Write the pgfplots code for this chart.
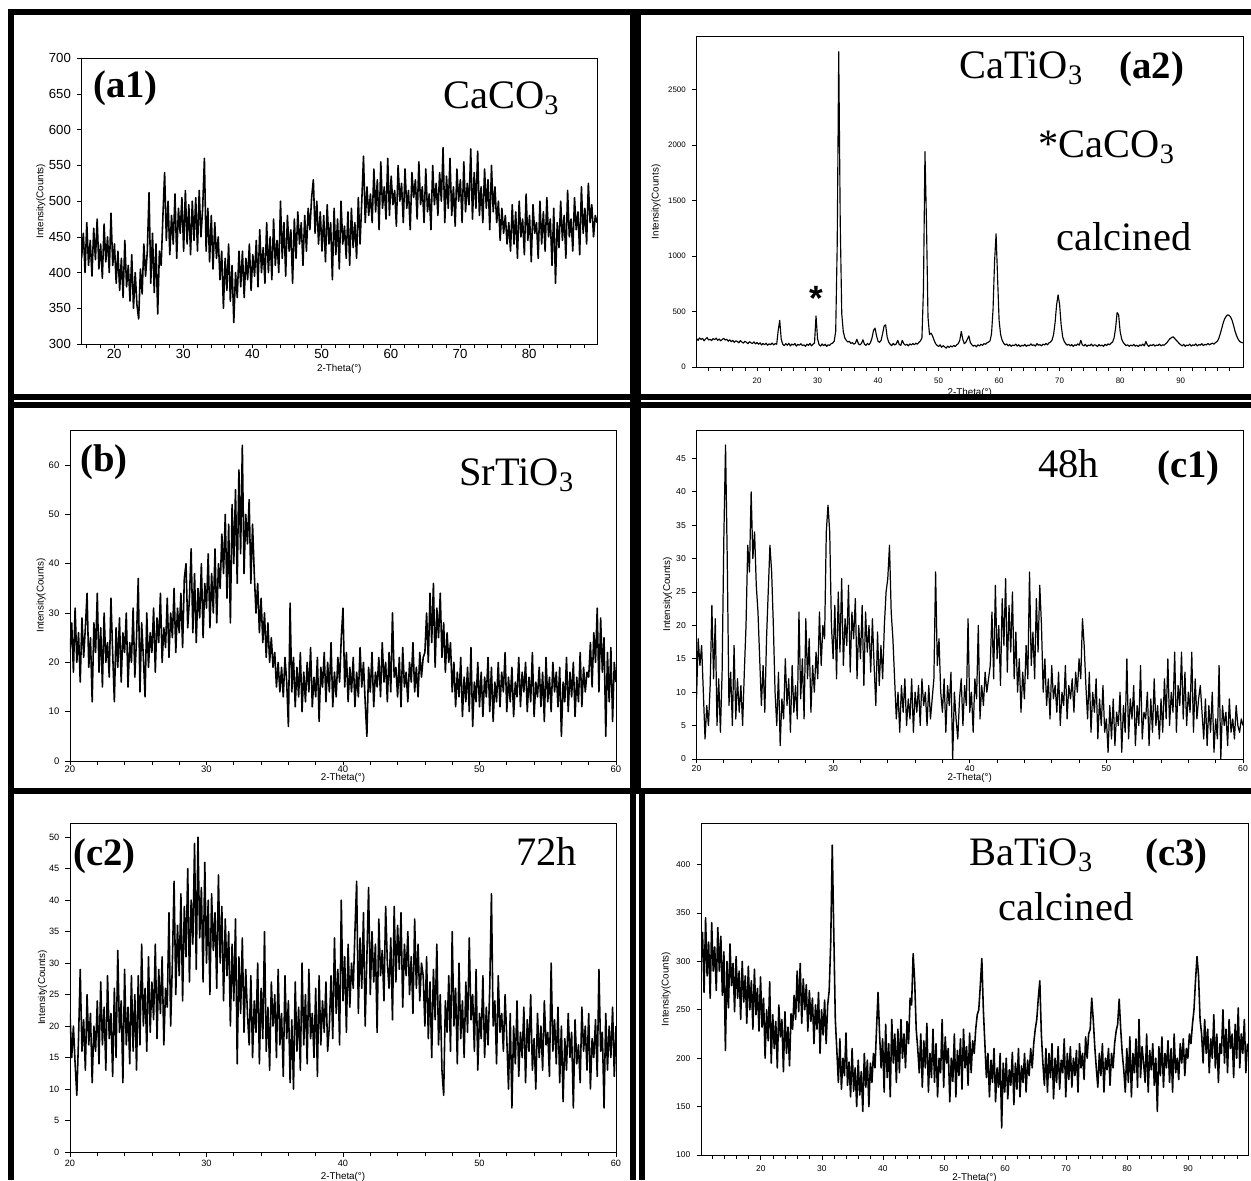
\documentclass[border=0pt]{standalone}
\usepackage{fontspec}
\setmainfont{Liberation Sans}
\newfontfamily\tnr{Liberation Serif}
\usepackage{pgfplots}
\pgfplotsset{compat=1.18}

\pgfplotsset{
  xrd/.style={
    scale only axis, anchor=south west,
    enlargelimits=false, clip=true,
    axis line style={line width=0.5pt},
    tick align=outside, tick pos=left,
    major tick length=0.09cm, minor tick length=0.08cm,
    tick style={line width=0.4pt, black},
    /pgf/number format/assume math mode=true,
    /pgf/number format/1000 sep={},
    scaled ticks=false,
    xlabel={2-Theta(°)}, ylabel={Intensity(Counts)},
    label style={font=\fontsize{5.6}{6}\selectfont},
  },
  xrdline/.style={black, line width=0.9pt, line join=round, mark=none},
}

\begin{document}
\begin{tikzpicture}
\path[use as bounding box] (0,0) rectangle (25.02cm,23.6cm);

% (a1) CaCO3
\begin{axis}[xrd, at={(1.632cm,16.72cm)}, width=10.308cm, height=5.714cm,
  xmin=15.3, xmax=89.8, ymin=300, ymax=700,
  xtick={20,30,...,80}, minor xtick={16,18,...,88}, ytick={300,350,...,700},
  tick label style={font=\fontsize{7.5}{8}\selectfont},
  xticklabel style={yshift=0.1cm},
  xlabel style={at={(axis description cs:0.5,-0.086)}, anchor=center},
  ylabel style={at={(axis description cs:-0.079,0.5)}, anchor=center}]
\addplot[xrdline] table[row sep=\\, header=false, x expr=15.3+0.25*\coordindex, y index=0] {
420\\ 455\\ 400\\ 470\\ 410\\ 445\\ 395\\ 462\\ 418\\ 475\\ 405\\ 440\\ 392\\ 468\\ 415\\ 450\\ 400\\ 483\\ 410\\
440\\ 385\\ 430\\ 375\\ 420\\ 365\\ 445\\ 380\\ 410\\ 360\\ 425\\ 350\\ 400\\ 355\\ 335\\ 405\\
370\\ 440\\ 395\\ 430\\ 512\\ 385\\ 455\\ 372\\ 440\\ 342\\
430\\ 410\\ 478\\ 540\\
445\\ 500\\ 425\\ 480\\ 440\\ 510\\ 420\\ 490\\ 455\\ 505\\ 430\\ 515\\ 440\\ 495\\ 425\\ 500\\ 445\\ 505\\ 430\\ 515\\ 450\\ 490\\
560\\
430\\ 490\\ 415\\ 480\\ 405\\ 470\\ 420\\ 450\\
390\\ 430\\ 350\\ 420\\ 375\\ 440\\ 360\\ 410\\ 330\\ 400\\ 365\\ 430\\
380\\ 430\\ 365\\ 420\\ 390\\ 440\\ 375\\ 425\\ 395\\ 445\\ 380\\ 460\\ 400\\ 435\\ 385\\ 470\\ 400\\ 450\\ 390\\ 475\\ 410\\ 445\\ 400\\ 500\\
420\\ 470\\ 395\\ 480\\ 430\\ 460\\ 385\\ 475\\ 420\\ 485\\ 440\\ 470\\ 410\\ 480\\ 430\\ 490\\
460\\ 505\\ 530\\ 455\\ 500\\ 440\\ 485\\
430\\ 480\\ 415\\ 495\\ 440\\ 470\\ 390\\ 490\\ 425\\ 475\\ 405\\ 500\\ 440\\ 465\\ 420\\ 485\\ 410\\ 490\\ 435\\ 470\\ 420\\ 505\\
440\\ 500\\ 563\\ 470\\ 520\\ 480\\
510\\ 470\\ 545\\ 485\\ 530\\ 460\\ 555\\ 490\\ 520\\ 475\\
560\\ 480\\ 535\\ 495\\ 515\\ 465\\ 550\\ 500\\ 525\\ 470\\
545\\ 490\\ 515\\ 460\\ 540\\ 505\\ 530\\ 475\\ 555\\ 495\\
520\\ 470\\ 545\\ 485\\ 510\\ 460\\ 550\\ 495\\ 525\\ 480\\
540\\ 500\\ 575\\ 470\\ 535\\ 490\\ 560\\ 480\\ 520\\ 465\\
545\\ 500\\ 530\\ 470\\ 555\\ 485\\ 525\\ 495\\ 573\\ 475\\
540\\ 490\\ 570\\ 480\\ 520\\ 470\\ 545\\ 490\\ 530\\ 460\\
550\\ 485\\
520\\ 470\\ 500\\ 445\\ 490\\ 455\\ 480\\ 440\\
470\\ 430\\ 495\\ 440\\ 485\\ 420\\ 500\\ 450\\ 475\\ 425\\
510\\ 445\\ 480\\ 415\\ 495\\ 455\\ 470\\ 420\\ 500\\ 440\\
485\\ 430\\ 505\\ 450\\ 475\\ 410\\ 490\\ 385\\ 470\\ 435\\
500\\ 445\\ 480\\ 420\\ 515\\ 450\\ 475\\ 430\\ 505\\ 460\\
485\\ 425\\ 520\\ 455\\ 490\\ 440\\ 525\\ 470\\ 495\\ 450\\
480\\ 470\\
};
\end{axis}

% (a2) CaTiO3 calcined
\begin{axis}[xrd, at={(13.93cm,16.26cm)}, width=10.93cm, height=6.606cm,
  xmin=10, xmax=100.3, ymin=0, ymax=2975,
  xtick={20,30,...,90}, minor xtick={12,14,...,98}, ytick={0,500,...,2500},
  tick label style={font=\fontsize{4.5}{5}\selectfont},
  xlabel style={at={(axis description cs:0.5,-0.079)}, anchor=center},
  ylabel style={at={(axis description cs:-0.074,0.5)}, anchor=center}]
\addplot[xrdline, line width=0.65pt] table[row sep=\\, header=false, x expr=10+0.25*\coordindex, y index=0] {
255\\ 240\\ 262\\ 248\\ 258\\ 236\\ 252\\ 265\\ 243\\ 250\\ 238\\ 256\\ 246\\ 260\\ 240\\ 252\\ 235\\ 248\\ 258\\ 242\\ 250\\
232\\ 245\\ 228\\ 240\\ 222\\ 236\\ 230\\ 218\\ 238\\ 225\\ 215\\ 232\\ 222\\ 210\\ 228\\ 218\\ 212\\ 226\\ 208\\ 220\\
205\\ 218\\ 198\\ 212\\ 200\\ 214\\ 196\\ 208\\ 202\\ 215\\ 199\\ 210\\ 205\\
330\\ 420\\ 250\\
205\\ 192\\ 210\\ 196\\ 214\\ 190\\ 206\\ 198\\ 212\\ 188\\ 204\\ 196\\ 210\\ 192\\ 200\\ 186\\ 206\\ 195\\ 212\\ 190\\ 205\\ 215\\
460\\ 255\\
200\\ 188\\ 208\\ 192\\ 205\\ 186\\ 200\\ 195\\ 210\\ 215\\ 232\\
320\\ 1100\\ 2840\\ 1300\\ 480\\ 320\\ 262\\
240\\ 225\\ 232\\ 212\\ 220\\ 205\\ 215\\ 250\\ 210\\ 198\\ 212\\ 245\\ 205\\ 195\\ 212\\ 200\\ 220\\ 262\\
330\\ 350\\ 280\\ 232\\ 222\\ 240\\ 300\\ 370\\ 380\\ 270\\ 225\\
205\\ 192\\ 212\\ 198\\ 208\\ 240\\ 202\\ 195\\ 240\\ 210\\ 196\\ 205\\ 190\\ 208\\ 198\\ 212\\ 200\\ 215\\ 205\\ 222\\ 235\\
262\\ 700\\ 1940\\ 1300\\ 450\\ 292\\ 305\\ 280\\ 242\\
210\\ 195\\ 185\\ 200\\ 178\\ 192\\ 182\\ 170\\ 188\\ 176\\ 190\\ 180\\ 195\\ 184\\ 200\\ 210\\
240\\ 320\\ 250\\ 210\\ 222\\ 250\\ 280\\ 220\\
200\\ 188\\ 196\\ 182\\ 200\\ 190\\ 204\\ 195\\ 210\\ 205\\ 218\\ 225\\ 235\\
300\\ 520\\ 950\\ 1200\\ 800\\ 420\\ 292\\ 240\\
215\\ 198\\ 208\\ 190\\ 202\\ 186\\ 198\\ 192\\ 206\\ 188\\ 200\\ 184\\ 196\\ 190\\ 204\\ 186\\ 198\\ 192\\ 208\\ 194\\
200\\ 188\\ 210\\ 196\\ 202\\ 190\\ 206\\ 198\\ 212\\ 200\\ 218\\ 225\\
242\\ 292\\ 400\\ 560\\ 650\\ 560\\ 380\\ 272\\ 232\\
210\\ 196\\ 205\\ 190\\ 202\\ 186\\ 200\\ 194\\ 208\\ 196\\ 240\\ 200\\ 190\\ 204\\ 186\\ 198\\ 192\\ 206\\ 188\\ 200\\
196\\ 184\\ 202\\ 190\\ 198\\ 186\\ 204\\ 194\\ 208\\ 200\\ 215\\ 225\\
262\\ 350\\ 490\\ 470\\ 320\\ 252\\ 222\\
205\\ 192\\ 200\\ 186\\ 198\\ 190\\ 204\\ 188\\ 196\\ 184\\ 200\\ 192\\ 206\\ 190\\ 230\\ 198\\ 186\\ 200\\ 192\\ 204\\
188\\ 198\\ 194\\ 206\\ 190\\ 200\\ 196\\ 208\\
220\\ 240\\ 255\\ 265\\ 272\\ 258\\ 242\\ 228\\ 212\\
200\\ 190\\ 204\\ 186\\ 198\\ 192\\ 206\\ 188\\ 200\\ 194\\ 208\\ 190\\ 202\\ 196\\ 210\\ 192\\ 204\\ 198\\ 212\\ 200\\
208\\ 215\\ 206\\ 220\\ 228\\
250\\ 292\\ 340\\ 392\\ 432\\ 455\\ 470\\ 465\\ 450\\ 420\\ 372\\ 320\\ 280\\ 250\\
230\\ 222\\ 218\\
};
\end{axis}

% (b) SrTiO3
\begin{axis}[xrd, at={(1.4cm,8.38cm)}, width=10.92cm, height=6.62cm,
  xmin=20, xmax=60, ymin=0, ymax=67.1,
  xtick={20,30,...,60}, minor xtick={22,24,...,58}, ytick={0,10,...,60},
  tick label style={font=\fontsize{5.4}{6}\selectfont},
  xticklabel style={yshift=0.12cm},
  xlabel style={at={(axis description cs:0.5,-0.052)}, anchor=center},
  ylabel style={at={(axis description cs:-0.053,0.5)}, anchor=center}]
\addplot[xrdline] table[row sep=\\, header=false, x expr=20+0.125*\coordindex, y index=0] {
22\\ 28\\ 18\\ 31\\ 20\\ 26\\ 16\\ 29\\ 21\\ 27\\ 34\\ 19\\ 25\\ 12\\ 28\\ 22\\ 34\\ 18\\ 27\\ 15\\ 30\\ 20\\ 24\\ 17\\ 33\\ 22\\ 12\\ 27\\ 19\\ 29\\
16\\ 26\\ 22\\ 30\\ 15\\ 24\\ 20\\ 31\\ 17\\ 25\\ 37\\ 14\\ 28\\ 21\\ 13\\ 30\\ 19\\ 26\\
22\\ 31\\ 18\\ 29\\ 24\\ 34\\ 20\\ 27\\ 23\\ 33\\ 21\\ 30\\ 25\\ 35\\ 22\\ 31\\ 26\\ 34\\ 23\\ 37\\ 40\\ 27\\ 33\\ 43\\
26\\ 38\\ 24\\ 35\\ 29\\ 40\\ 25\\ 36\\ 31\\ 42\\ 27\\ 38\\ 30\\ 43\\ 28\\ 40\\
35\\ 46\\ 38\\ 50\\ 33\\ 48\\ 28\\ 52\\ 40\\ 55\\ 36\\ 59\\ 42\\ 64\\ 38\\ 50\\ 44\\ 53\\ 36\\ 48\\
38\\ 30\\ 36\\ 26\\ 33\\ 24\\ 30\\ 21\\ 28\\ 20\\ 25\\ 19\\
22\\ 15\\ 20\\ 14\\ 19\\ 13\\ 21\\ 16\\
7\\ 32\\ 14\\ 21\\ 11\\ 19\\ 13\\ 22\\ 10\\ 18\\
12\\ 20\\ 14\\ 23\\ 11\\ 17\\ 13\\ 21\\ 8\\ 19\\
15\\ 22\\ 12\\ 20\\ 14\\ 24\\ 11\\ 18\\ 13\\ 21\\
16\\ 25\\ 31\\ 15\\ 22\\ 12\\ 19\\ 14\\ 21\\ 11\\
18\\ 13\\ 23\\ 15\\ 20\\ 12\\ 5\\ 19\\ 14\\ 22\\
11\\ 18\\ 15\\ 21\\ 13\\ 24\\ 16\\ 20\\ 12\\ 22\\
14\\ 30\\ 17\\ 19\\ 13\\ 21\\ 11\\ 23\\ 15\\ 18\\
12\\ 20\\ 16\\ 24\\ 14\\ 19\\ 13\\ 22\\ 17\\ 21\\
22\\ 30\\ 20\\ 34\\ 24\\ 36\\ 19\\ 31\\ 25\\ 34\\ 21\\ 28\\ 18\\ 26\\ 20\\ 24\\
14\\ 20\\ 11\\ 18\\ 13\\ 21\\ 9\\ 17\\ 12\\ 19\\
10\\ 23\\ 7\\ 16\\ 12\\ 20\\ 11\\ 18\\ 9\\ 17\\
13\\ 21\\ 10\\ 19\\ 8\\ 16\\ 12\\ 20\\ 11\\ 18\\
14\\ 22\\ 10\\ 17\\ 12\\ 19\\ 9\\ 16\\ 13\\ 21\\
11\\ 18\\ 14\\ 20\\ 10\\ 17\\ 12\\ 22\\ 9\\ 16\\
13\\ 19\\ 11\\ 18\\ 8\\ 21\\ 12\\ 17\\ 10\\ 20\\
14\\ 18\\ 11\\ 19\\ 5\\ 16\\ 12\\ 21\\ 10\\ 18\\
13\\ 20\\ 9\\ 17\\ 12\\ 22\\ 11\\ 19\\ 14\\ 18\\
17\\ 24\\ 15\\ 26\\ 20\\ 31\\ 14\\ 29\\ 18\\ 25\\ 5\\ 22\\ 12\\ 23\\ 8\\ 20\\ 16\\
};
\end{axis}

% (c1) 48h
\begin{axis}[xrd, at={(13.93cm,8.42cm)}, width=10.93cm, height=6.58cm,
  xmin=20, xmax=60, ymin=0, ymax=49.25,
  xtick={20,30,...,60}, minor xtick={22,24,...,58}, ytick={0,5,...,45},
  tick label style={font=\fontsize{4.9}{5.5}\selectfont},
  xticklabel style={yshift=0.08cm},
  xlabel style={at={(axis description cs:0.5,-0.058)}, anchor=center},
  ylabel style={at={(axis description cs:-0.053,0.5)}, anchor=center}]
\addplot[xrdline, line width=0.7pt] table[row sep=\\, header=false, x expr=20+0.125*\coordindex, y index=0] {
9\\ 18\\ 14\\ 17\\ 10\\ 3\\ 8\\ 5\\ 11\\ 23\\ 12\\ 21\\ 5\\ 12\\ 4\\ 13\\ 33\\ 47\\ 30\\
8\\ 13\\ 5\\ 17\\ 6\\ 12\\ 7\\ 11\\ 5\\ 13\\
20\\ 32\\ 28\\ 40\\ 30\\ 34\\ 26\\ 22\\ 15\\ 8\\ 14\\ 7\\ 18\\ 25\\ 32\\ 28\\ 20\\
10\\ 5\\ 13\\ 2\\ 9\\ 6\\ 15\\ 8\\ 12\\ 4\\ 14\\ 7\\ 11\\ 6\\
22\\ 9\\ 15\\ 6\\ 21\\ 12\\ 18\\ 7\\ 14\\ 10\\ 16\\ 12\\
22\\ 14\\ 20\\ 18\\ 34\\ 38\\ 34\\
20\\ 15\\ 23\\ 12\\ 25\\ 16\\ 27\\ 14\\ 21\\ 17\\ 26\\ 13\\ 22\\ 18\\ 24\\ 12\\ 20\\ 15\\ 23\\ 11\\ 22\\ 16\\ 20\\ 13\\ 21\\
14\\ 8\\ 19\\ 11\\ 17\\ 12\\ 20\\ 25\\ 27\\ 32\\ 22\\ 18\\
12\\ 6\\ 10\\ 4\\ 11\\ 7\\ 12\\ 5\\ 9\\ 6\\ 12\\ 4\\ 10\\ 7\\ 11\\ 5\\ 12\\ 8\\ 10\\ 5\\ 11\\ 6\\ 9\\ 12\\
28\\
14\\ 18\\ 10\\ 7\\ 12\\ 4\\ 11\\ 8\\ 13\\ 0\\ 10\\ 6\\ 3\\ 9\\ 12\\ 5\\ 11\\ 8\\ 21\\ 7\\ 10\\ 4\\ 12\\ 9\\ 20\\ 6\\ 11\\ 8\\ 13\\ 10\\ 12\\
14\\ 22\\ 12\\ 26\\ 15\\ 20\\ 11\\ 24\\ 17\\ 27\\ 13\\ 23\\ 16\\ 25\\ 12\\ 19\\
10\\ 15\\ 7\\ 13\\ 9\\ 17\\ 12\\ 28\\ 14\\ 19\\ 12\\ 24\\ 16\\ 26\\
20\\ 10\\ 15\\ 8\\ 12\\ 6\\ 14\\ 9\\ 11\\ 7\\ 13\\ 5\\ 10\\ 8\\ 14\\ 6\\ 11\\ 9\\ 12\\ 7\\ 13\\ 10\\ 15\\ 12\\
21\\ 17\\
11\\ 6\\ 13\\ 4\\ 10\\ 7\\ 12\\ 3\\ 9\\ 5\\ 11\\ 4\\
6\\ 1\\ 8\\ 3\\ 9\\ 2\\ 7\\ 5\\ 10\\ 1\\ 8\\ 4\\ 15\\ 3\\ 9\\ 6\\ 11\\ 2\\ 8\\ 5\\ 14\\ 3\\ 7\\ 6\\ 10\\ 2\\ 9\\ 4\\ 12\\ 5\\ 8\\ 3\\
9\\ 4\\ 12\\ 6\\ 15\\ 5\\ 10\\ 7\\ 16\\ 4\\ 11\\ 8\\ 16\\ 6\\ 13\\ 5\\ 10\\ 7\\ 16\\ 4\\ 12\\ 6\\ 9\\ 11\\
7\\ 3\\ 9\\ 2\\ 8\\ 4\\ 10\\ 1\\ 6\\ 3\\ 14\\ 0\\ 8\\ 5\\ 7\\ 2\\ 9\\ 4\\ 6\\ 3\\ 8\\ 5\\ 4\\ 6\\ 5\\
};
\end{axis}

% (c2) 72h
\begin{axis}[xrd, at={(1.4cm,0.56cm)}, width=10.92cm, height=6.574cm,
  xmin=20, xmax=60, ymin=0, ymax=52.2,
  xtick={20,30,...,60}, minor xtick={22,24,...,58}, ytick={0,5,...,50},
  tick label style={font=\fontsize{5.2}{6}\selectfont},
  xticklabel style={yshift=0.06cm},
  xlabel style={at={(axis description cs:0.5,-0.075)}, anchor=center},
  ylabel style={at={(axis description cs:-0.05,0.5)}, anchor=center}]
\addplot[xrdline] table[row sep=\\, header=false, x expr=20+0.125*\coordindex, y index=0] {
22\\ 15\\ 20\\ 14\\ 9\\ 18\\ 29\\ 16\\ 21\\ 13\\ 25\\ 17\\ 22\\ 11\\ 20\\ 16\\
24\\ 14\\ 27\\ 17\\ 23\\ 13\\ 28\\ 18\\ 22\\ 12\\ 26\\ 15\\ 32\\ 19\\ 24\\ 11\\ 29\\ 17\\ 23\\ 14\\ 28\\ 16\\ 25\\ 13\\
28\\ 17\\ 33\\ 20\\ 26\\ 16\\ 31\\ 19\\ 27\\ 21\\ 33\\ 18\\ 29\\ 22\\ 31\\ 17\\ 26\\ 23\\ 38\\ 20\\
30\\ 43\\ 25\\ 36\\ 28\\ 41\\ 24\\ 39\\ 31\\ 45\\ 27\\ 40\\ 33\\ 49\\ 29\\ 50\\ 34\\ 42\\ 27\\ 46\\
30\\ 40\\ 25\\ 41\\ 32\\ 38\\ 26\\ 44\\ 30\\ 39\\ 24\\ 37\\
28\\ 35\\ 20\\ 33\\ 24\\ 37\\ 14\\ 31\\ 22\\ 34\\ 19\\ 29\\
22\\ 17\\ 28\\ 15\\ 24\\ 19\\ 30\\ 14\\ 26\\ 18\\ 35\\ 16\\ 23\\ 13\\ 27\\ 20\\ 25\\ 15\\ 29\\ 17\\
22\\ 12\\ 28\\ 18\\ 24\\ 11\\ 21\\ 10\\ 27\\ 16\\ 23\\ 13\\ 30\\ 17\\ 25\\ 14\\ 29\\ 18\\ 22\\ 15\\
26\\ 12\\ 28\\ 17\\ 24\\ 19\\ 27\\ 16\\
20\\ 28\\ 18\\ 34\\ 22\\ 29\\ 17\\ 40\\ 24\\ 31\\ 19\\ 33\\ 23\\ 30\\ 26\\ 35\\
43\\ 22\\ 34\\ 26\\ 38\\ 20\\ 31\\ 42\\ 25\\ 35\\ 27\\ 33\\ 19\\ 37\\ 28\\ 32\\ 24\\ 39\\ 30\\ 26\\
34\\ 21\\ 39\\ 27\\ 36\\ 29\\ 38\\ 23\\ 33\\ 28\\ 35\\ 25\\ 31\\ 22\\ 37\\ 26\\ 33\\ 24\\ 30\\ 28\\
20\\ 31\\ 18\\ 27\\ 15\\ 29\\ 21\\ 33\\ 17\\ 25\\ 13\\ 9\\ 24\\ 19\\ 28\\ 16\\ 35\\ 20\\ 26\\ 14\\
30\\ 18\\ 24\\ 15\\ 27\\ 19\\ 34\\ 21\\ 25\\ 16\\ 29\\ 13\\ 22\\ 18\\ 28\\ 15\\ 23\\ 17\\ 26\\ 41\\
20\\ 24\\ 14\\ 28\\ 19\\ 22\\ 16\\ 25\\
18\\ 10\\ 22\\ 7\\ 20\\ 14\\ 24\\ 12\\ 19\\ 15\\ 23\\ 11\\ 21\\ 16\\ 25\\ 13\\ 18\\ 10\\ 22\\ 15\\
20\\ 13\\ 24\\ 17\\ 19\\ 12\\ 30\\ 16\\ 21\\ 14\\ 23\\ 11\\ 20\\ 8\\ 18\\ 13\\ 22\\ 15\\ 19\\ 7\\
21\\ 14\\ 17\\ 11\\ 23\\ 16\\ 20\\ 13\\ 22\\ 10\\ 18\\ 15\\ 21\\ 12\\ 29\\ 16\\ 19\\ 7\\ 22\\ 13\\
20\\ 15\\ 23\\ 12\\ 20\\
};
\end{axis}

% (c3) BaTiO3 calcined
\begin{axis}[xrd, at={(14.02cm,0.5cm)}, width=10.94cm, height=6.64cm,
  xmin=10.2, xmax=99.8, ymin=100, ymax=443,
  xtick={20,30,...,90}, minor xtick={12,14,...,98}, ytick={100,150,...,400},
  tick label style={font=\fontsize{4.8}{5.5}\selectfont},
  xlabel style={at={(axis description cs:0.5,-0.069)}, anchor=center},
  ylabel style={at={(axis description cs:-0.064,0.5)}, anchor=center}]
\addplot[xrdline] table[row sep=\\, header=false, x expr=10.2+0.25*\coordindex, y index=0] {
300\\ 330\\ 268\\ 345\\ 285\\ 320\\ 262\\ 340\\ 290\\ 315\\ 270\\ 335\\
290\\ 326\\ 265\\ 310\\ 208\\ 300\\ 252\\ 318\\ 275\\ 298\\ 248\\ 305\\ 262\\ 290\\ 240\\ 300\\ 258\\ 285\\ 236\\ 295\\
250\\ 280\\ 230\\ 292\\ 245\\ 272\\ 228\\ 284\\
232\\ 262\\ 200\\ 250\\ 218\\ 279\\ 195\\ 245\\ 210\\ 238\\ 190\\ 255\\ 222\\ 240\\ 186\\ 248\\ 205\\ 232\\ 192\\ 246\\
230\\ 265\\ 240\\ 290\\ 248\\ 298\\ 236\\ 282\\ 250\\ 276\\ 228\\ 270\\
238\\ 262\\ 215\\ 255\\ 230\\ 268\\ 205\\ 250\\ 224\\ 260\\ 215\\ 255\\ 270\\
320\\ 420\\ 330\\ 240\\
208\\ 175\\ 220\\ 168\\ 200\\ 182\\ 226\\ 172\\ 196\\ 160\\ 210\\ 166\\ 190\\ 150\\ 198\\ 162\\ 186\\ 145\\ 205\\
170\\ 198\\ 150\\ 195\\ 175\\ 205\\ 190\\ 230\\
268\\ 225\\
190\\ 220\\ 165\\ 235\\ 180\\ 215\\ 160\\ 240\\ 195\\ 225\\ 175\\ 230\\ 185\\ 240\\ 200\\ 225\\ 190\\ 238\\ 215\\ 262\\
255\\ 308\\ 280\\ 230\\ 210\\
185\\ 225\\ 170\\ 218\\ 190\\ 236\\ 165\\ 205\\ 180\\ 230\\ 175\\ 215\\ 160\\ 200\\ 185\\ 240\\ 170\\ 222\\ 195\\ 210\\
155\\ 200\\ 176\\ 225\\ 160\\ 208\\ 182\\ 220\\ 168\\ 230\\ 190\\ 212\\ 172\\ 226\\ 185\\ 218\\ 205\\ 230\\ 245\\
250\\ 275\\ 303\\ 250\\ 215\\
180\\ 205\\ 160\\ 198\\ 175\\ 210\\ 155\\ 190\\ 170\\ 205\\ 128\\ 195\\ 165\\ 200\\ 158\\ 188\\ 172\\ 206\\ 152\\ 195\\
168\\ 210\\ 160\\ 192\\ 175\\ 205\\ 165\\ 198\\ 182\\ 210\\ 190\\ 215\\ 230\\
240\\ 262\\ 280\\ 225\\ 195\\
172\\ 210\\ 165\\ 205\\ 180\\ 215\\ 158\\ 200\\ 175\\ 212\\ 168\\ 198\\ 185\\ 220\\ 160\\ 205\\ 178\\ 212\\ 170\\ 200\\
182\\ 208\\ 165\\ 215\\ 190\\ 205\\ 178\\ 222\\ 200\\ 225\\
230\\ 262\\ 240\\ 212\\ 190\\
170\\ 205\\ 182\\ 215\\ 165\\ 200\\ 188\\ 210\\ 172\\ 205\\ 190\\ 215\\ 228\\
235\\ 261\\ 230\\ 205\\ 188\\
165\\ 210\\ 175\\ 222\\ 160\\ 205\\ 185\\ 220\\ 170\\ 240\\ 180\\ 212\\ 195\\ 175\\ 225\\ 165\\ 208\\ 188\\ 215\\ 172\\
200\\ 145\\ 212\\ 182\\ 222\\ 170\\ 205\\ 190\\ 218\\ 175\\ 210\\ 165\\ 225\\ 185\\ 200\\ 178\\ 215\\ 195\\ 220\\ 182\\
210\\ 200\\ 225\\ 215\\ 235\\
250\\ 280\\ 305\\ 285\\ 240\\
225\\ 195\\ 240\\ 205\\ 230\\ 185\\ 220\\ 200\\ 245\\ 190\\ 225\\ 175\\ 215\\ 205\\ 250\\ 195\\ 230\\ 185\\ 240\\ 210\\
225\\ 180\\ 235\\ 200\\ 252\\ 190\\ 225\\ 205\\ 240\\ 185\\ 215\\
};
\end{axis}

% annotations and panel frames, in pixel units from the top left
\begin{scope}[x=0.02cm, y=-0.02cm, shift={(0,23.6cm)}]
\tikzset{lab/.style={inner sep=0pt, anchor=base west, font=\tnr\fontsize{23}{26}\selectfont},
         blab/.style={inner sep=0pt, anchor=base west, font=\tnr\bfseries\fontsize{22}{24}\selectfont}}
\node[blab] at (93,97) {(a1)};
\node[lab] at (443,108) {CaCO\textsubscript{3}};
\node[lab] at (959,78) {CaTiO\textsubscript{3}};
\node[blab] at (1119,78) {(a2)};
\node[lab] at (1038,157) {*CaCO\textsubscript{3}};
\node[lab] at (1056,250) {calcined};
\node[inner sep=0pt, anchor=base, font=\bfseries\fontsize{20}{20}\selectfont] at (816,310) {*};
\node[blab] at (80,471) {(b)};
\node[lab] at (459,485) {SrTiO\textsubscript{3}};
\node[lab] at (1038,477) {48h};
\node[blab] at (1157,477) {(c1)};
\node[blab] at (73,865) {(c2)};
\node[lab] at (516,865) {72h};
\node[lab] at (969,865) {BaTiO\textsubscript{3}};
\node[blab] at (1145,865) {(c3)};
\node[lab] at (998,920) {calcined};
% frames
\fill[black] (8,9) rectangle (1251,15);
\fill[black] (8,9) rectangle (14,1180);
\fill[black] (8,394) rectangle (1251,400);
\fill[black] (8,402) rectangle (1251,408);
\fill[black] (630,9) rectangle (641,788);
\fill[black] (8,788) rectangle (1251,794);
\fill[black] (630,794) rectangle (636,1180);
\fill[black] (638.5,794) rectangle (644.5,1180);
\end{scope}
\end{tikzpicture}
\end{document}
